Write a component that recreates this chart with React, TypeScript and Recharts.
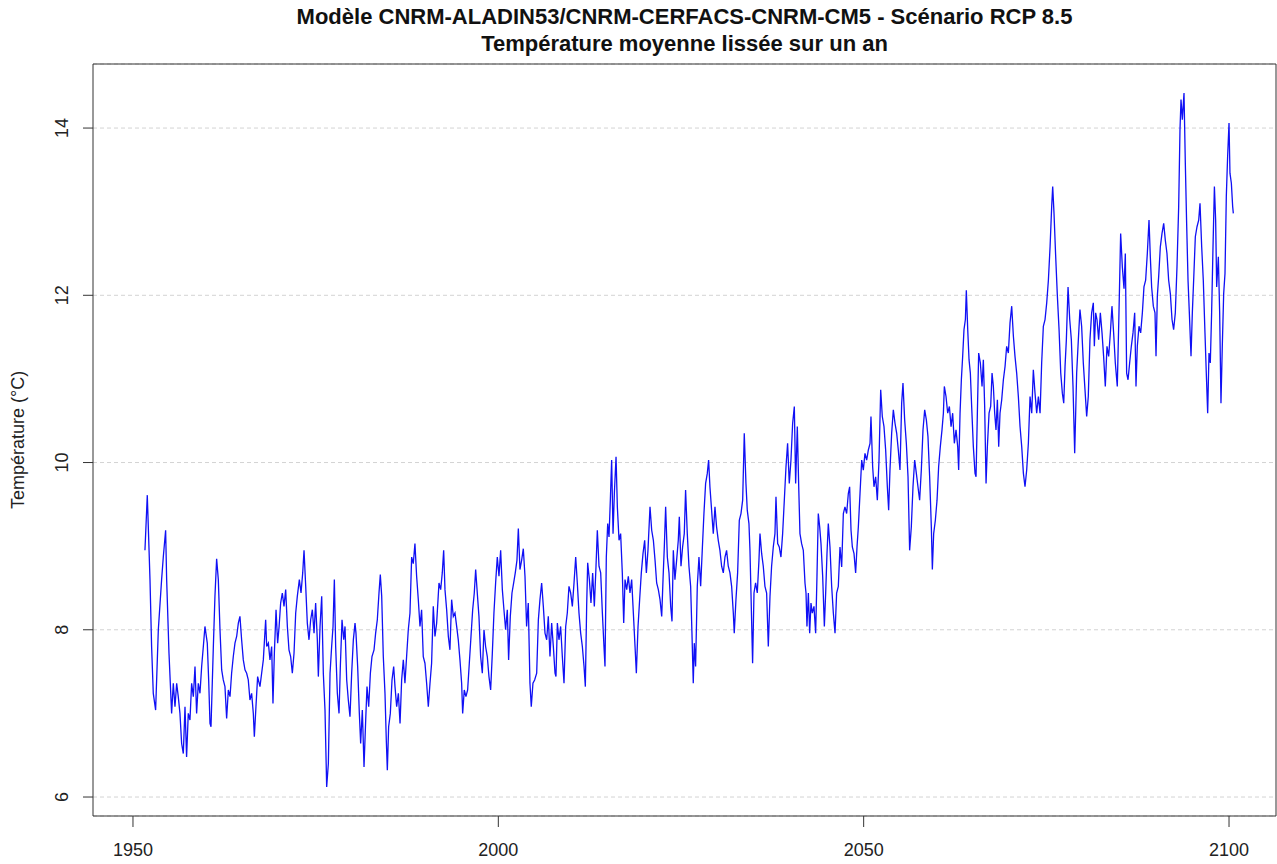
import React from 'react';
import { LineChart, Line, XAxis, YAxis, CartesianGrid, ReferenceArea, Label } from 'recharts';

const TITLE_LINE_1 = 'Modèle CNRM-ALADIN53/CNRM-CERFACS-CNRM-CM5 - Scénario RCP 8.5';
const TITLE_LINE_2 = 'Température moyenne lissée sur un an';
const Y_LABEL = 'Température (°C)';
const X_TICKS = [1950, 2000, 2050, 2100];
const Y_TICKS = [6, 8, 10, 12, 14];

const YEARS = [
  1951.64, 1951.96, 1952.33, 1952.55, 1952.78, 1953.10, 1953.47, 1953.92, 1954.15, 1954.47,
  1954.61, 1954.93, 1955.29, 1955.52, 1955.75, 1955.98, 1956.20, 1956.43, 1956.66, 1956.89,
  1957.12, 1957.34, 1957.57, 1957.80, 1958.03, 1958.26, 1958.49, 1958.71, 1958.94, 1959.17,
  1959.40, 1959.63, 1959.85, 1960.17, 1960.36, 1960.54, 1960.68, 1961.00, 1961.22, 1961.45,
  1961.68, 1961.91, 1962.14, 1962.36, 1962.59, 1962.82, 1963.05, 1963.28, 1963.50, 1963.73,
  1963.96, 1964.19, 1964.42, 1964.64, 1964.87, 1965.10, 1965.33, 1965.56, 1965.78, 1966.01,
  1966.24, 1966.47, 1966.61, 1966.83, 1967.06, 1967.38, 1967.61, 1967.84, 1968.16,
  1968.30, 1968.53, 1968.75, 1968.98, 1969.16, 1969.35, 1969.58, 1969.80, 1970.00, 1970.21,
  1970.44, 1970.67, 1970.90, 1971.13, 1971.35, 1971.58, 1971.81, 1972.04, 1972.27, 1972.49,
  1972.77, 1973.00, 1973.23, 1973.41, 1973.64, 1973.86, 1974.09, 1974.32, 1974.55, 1974.78,
  1975.00, 1975.23, 1975.37, 1975.60, 1975.83, 1976.05, 1976.28, 1976.51, 1976.74, 1976.97,
  1977.19, 1977.38, 1977.56, 1977.74, 1977.97, 1978.20, 1978.38, 1978.61, 1978.84, 1979.02,
  1979.25, 1979.47, 1979.70, 1979.93, 1980.16, 1980.39, 1980.52, 1980.75, 1980.98, 1981.16,
  1981.39, 1981.62, 1981.85, 1982.03, 1982.26, 1982.49, 1982.71, 1982.99, 1983.21, 1983.44,
  1983.67, 1983.85, 1984.04, 1984.26, 1984.49, 1984.67, 1984.81, 1984.99, 1985.22, 1985.45,
  1985.68, 1985.86, 1986.09, 1986.32, 1986.55, 1986.77, 1987.00,
  1987.22, 1987.45, 1987.68, 1987.91, 1988.14, 1988.36, 1988.59, 1988.82, 1989.05, 1989.28,
  1989.50, 1989.73, 1989.96, 1990.19, 1990.42, 1990.65, 1990.87, 1991.10, 1991.33, 1991.56,
  1991.88, 1992.11, 1992.33, 1992.52, 1992.70, 1992.93, 1993.16, 1993.38, 1993.61, 1993.84,
  1994.07, 1994.30, 1994.52, 1994.75, 1994.98, 1995.12, 1995.34, 1995.57, 1995.80, 1996.03,
  1996.26, 1996.49, 1996.71, 1996.90, 1997.12, 1997.35, 1997.58, 1997.81, 1998.04, 1998.26,
  1998.49, 1998.72, 1998.95, 1999.18, 1999.40, 1999.63, 1999.86, 2000.09, 2000.32, 2000.55,
  2000.77, 2001.00, 2001.23, 2001.41, 2001.64, 2001.87, 2002.10, 2002.32, 2002.55, 2002.74,
  2002.96, 2003.19, 2003.42, 2003.65, 2003.87, 2004.10, 2004.33, 2004.51, 2004.74, 2004.97,
  2005.25, 2005.48, 2005.70, 2005.93, 2006.16, 2006.39, 2006.62, 2006.84, 2007.07, 2007.30,
  2007.53, 2007.76, 2007.89, 2008.08, 2008.30, 2008.53, 2008.76, 2008.99, 2009.22, 2009.44,
  2009.67, 2009.90, 2010.13, 2010.36, 2010.59, 2010.81, 2011.04, 2011.27, 2011.50, 2011.73,
  2011.91, 2012.09, 2012.23, 2012.46, 2012.68, 2012.91, 2013.14, 2013.37, 2013.55, 2013.78,
  2014.01, 2014.24, 2014.46, 2014.60, 2014.78, 2014.97, 2015.15, 2015.33, 2015.51, 2015.70,
  2015.88, 2016.11, 2016.29, 2016.52, 2016.74, 2016.97, 2017.16, 2017.34, 2017.57, 2017.79,
  2018.02, 2018.25, 2018.48, 2018.71, 2018.89, 2019.12, 2019.34, 2019.57, 2019.80, 2020.03,
  2020.26, 2020.48, 2020.76, 2020.99, 2021.22, 2021.45, 2021.67, 2021.90, 2022.13, 2022.36,
  2022.54, 2022.72, 2022.90, 2023.13, 2023.36, 2023.59, 2023.77, 2023.95,
  2024.17, 2024.40, 2024.63, 2024.77, 2025.00, 2025.22, 2025.45, 2025.63, 2025.86, 2026.09,
  2026.32, 2026.50, 2026.68, 2026.82, 2027.00, 2027.23, 2027.46, 2027.69, 2027.91, 2028.14,
  2028.37, 2028.60, 2028.78, 2028.96, 2029.19, 2029.42, 2029.65, 2029.87, 2030.10, 2030.33,
  2030.56, 2030.79, 2031.02, 2031.24, 2031.47, 2031.70, 2031.93, 2032.16, 2032.29, 2032.52,
  2032.75, 2032.98, 2033.21, 2033.44, 2033.66, 2033.89, 2034.07, 2034.30, 2034.44, 2034.62,
  2034.80, 2034.99, 2035.21, 2035.44, 2035.67, 2035.81, 2036.04, 2036.26, 2036.49, 2036.72,
  2036.95, 2037.18, 2037.40, 2037.63, 2037.86, 2038.00, 2038.23, 2038.45, 2038.68, 2038.91,
  2039.14, 2039.37, 2039.59, 2039.82, 2040.05, 2040.28, 2040.51, 2040.69, 2040.92, 2041.10,
  2041.28, 2041.51, 2041.74, 2041.97,
  2042.11, 2042.24, 2042.43, 2042.61, 2042.79, 2042.97, 2043.20, 2043.43, 2043.61, 2043.79,
  2043.98, 2044.16, 2044.39, 2044.62, 2044.80, 2044.98, 2045.16, 2045.39, 2045.62, 2045.85,
  2046.08, 2046.30, 2046.53, 2046.76, 2046.99, 2047.22, 2047.44, 2047.67, 2047.90, 2048.08,
  2048.27, 2048.45, 2048.68, 2048.90, 2049.09, 2049.27, 2049.50, 2049.73, 2049.95, 2050.18,
  2050.41, 2050.64, 2050.87, 2051.00, 2051.23, 2051.41, 2051.64, 2051.87, 2052.10, 2052.33,
  2052.55, 2052.78, 2053.01, 2053.24, 2053.42, 2053.60, 2053.83, 2054.06, 2054.29, 2054.52,
  2054.74, 2054.97, 2055.20, 2055.38, 2055.61, 2055.84, 2056.07, 2056.29, 2056.52, 2056.75,
  2056.98, 2057.21, 2057.43, 2057.66, 2057.89, 2058.12, 2058.35, 2058.58, 2058.80, 2059.03,
  2059.26, 2059.40, 2059.58, 2059.81, 2060.04, 2060.26, 2060.49, 2060.72,
  2060.91, 2061.04, 2061.27, 2061.50, 2061.73, 2061.96, 2062.18, 2062.41, 2062.64, 2062.87,
  2063.00, 2063.19, 2063.37, 2063.55, 2063.73, 2063.92, 2064.05, 2064.24, 2064.42, 2064.60,
  2064.78, 2065.01, 2065.24, 2065.38, 2065.56, 2065.74, 2065.97, 2066.20, 2066.38, 2066.56,
  2066.75, 2066.93, 2067.16, 2067.38, 2067.57, 2067.75, 2067.93, 2068.11, 2068.30, 2068.48,
  2068.66, 2068.89, 2069.12, 2069.35, 2069.57, 2069.80, 2070.03, 2070.26, 2070.49, 2070.71,
  2070.94, 2071.17, 2071.40, 2071.63, 2071.86, 2072.08, 2072.31, 2072.54, 2072.77, 2073.00,
  2073.22, 2073.45, 2073.68, 2073.91, 2074.14, 2074.36, 2074.59, 2074.82, 2075.05, 2075.28,
  2075.51, 2075.73, 2075.87, 2076.05, 2076.28, 2076.51, 2076.74, 2076.97, 2077.19, 2077.38,
  2077.56, 2077.74, 2077.97, 2078.20, 2078.42, 2078.65, 2078.88,
  2079.15, 2079.38, 2079.60, 2079.83, 2080.06, 2080.29, 2080.52, 2080.74, 2080.97, 2081.20,
  2081.43, 2081.57, 2081.75, 2081.93, 2082.16, 2082.39, 2082.62, 2082.84, 2083.07, 2083.30,
  2083.53, 2083.76, 2083.98, 2084.21, 2084.44, 2084.71, 2084.94, 2085.17, 2085.40, 2085.63,
  2085.81, 2085.99, 2086.18, 2086.40, 2086.63, 2086.86, 2087.09, 2087.27, 2087.45, 2087.68,
  2087.91, 2088.14, 2088.36, 2088.59, 2088.82, 2089.05, 2089.23, 2089.41, 2089.64, 2089.87,
  2090.01, 2090.19, 2090.37, 2090.60, 2090.83, 2091.06, 2091.28, 2091.51, 2091.74, 2091.97,
  2092.20, 2092.42, 2092.65, 2092.88, 2093.11, 2093.29, 2093.43, 2093.61, 2093.84, 2094.02,
  2094.20, 2094.39, 2094.57, 2094.80, 2094.98, 2095.16, 2095.39, 2095.62, 2095.85, 2096.03,
  2096.26, 2096.48, 2096.71, 2096.89, 2097.08, 2097.26, 2097.44, 2097.62, 2097.81, 2098.00,
  2098.17, 2098.31, 2098.54, 2098.72, 2098.90, 2099.08, 2099.27, 2099.45, 2099.63, 2099.81,
  2100.00, 2100.13, 2100.32, 2100.50, 2100.59,
];

const TEMPS = [
  8.95, 9.61, 8.60, 7.80, 7.24, 7.04, 8.00, 8.60, 8.87, 9.19,
  8.60, 7.72, 7.00, 7.36, 7.08, 7.36, 7.20, 7.00, 6.64, 6.52,
  7.08, 6.48, 7.00, 6.92, 7.36, 7.20, 7.56, 7.00, 7.36, 7.24,
  7.56, 7.80, 8.04, 7.84, 7.40, 6.88, 6.84, 7.80, 8.40, 8.85,
  8.60, 8.00, 7.52, 7.40, 7.32, 6.94, 7.28, 7.20, 7.48, 7.68,
  7.84, 7.92, 8.08, 8.16, 7.88, 7.64, 7.52, 7.48, 7.40, 7.16,
  7.24, 7.00, 6.72, 7.08, 7.44, 7.32, 7.48, 7.64, 8.12,
  7.80, 7.84, 7.64, 7.80, 7.12, 7.72, 8.24, 7.84, 8.04, 8.32,
  8.44, 8.28, 8.48, 8.04, 7.76, 7.68, 7.48, 7.72, 8.20, 8.40,
  8.60, 8.44, 8.68, 8.95, 8.52, 8.08, 7.88, 8.12, 8.24, 7.96,
  8.32, 7.88, 7.44, 8.04, 8.40, 7.48, 7.04, 6.12, 6.40, 7.48,
  7.80, 8.04, 8.60, 7.80, 7.24, 7.00, 7.56, 8.12, 7.88, 8.04,
  7.40, 7.16, 6.96, 7.48, 7.88, 8.08, 7.96, 7.56, 7.00, 6.64,
  7.04, 6.36, 6.92, 7.32, 7.08, 7.48, 7.68, 7.76, 7.96, 8.12,
  8.44, 8.66, 8.40, 7.68, 7.24, 6.68, 6.32, 6.84, 7.00, 7.40,
  7.56, 7.32, 7.08, 7.24, 6.88, 7.40, 7.64,
  7.36, 7.68, 8.00, 8.20, 8.87, 8.79, 9.03, 8.64, 8.36, 8.04,
  8.24, 7.68, 7.60, 7.36, 7.08, 7.36, 7.60, 8.28, 7.92, 8.08,
  8.56, 8.48, 8.68, 8.95, 8.48, 8.24, 7.92, 7.76, 8.36, 8.16,
  8.20, 8.04, 7.88, 7.64, 7.36, 7.00, 7.28, 7.20, 7.28, 7.60,
  7.92, 8.24, 8.44, 8.72, 8.44, 8.16, 7.68, 7.48, 8.00, 7.80,
  7.68, 7.44, 7.28, 7.72, 8.20, 8.56, 8.87, 8.64, 8.95, 8.48,
  8.24, 8.00, 8.24, 7.64, 8.16, 8.44, 8.56, 8.68, 8.83, 9.21,
  8.72, 8.83, 8.97, 8.64, 8.04, 8.32, 7.36, 7.08, 7.36, 7.40,
  7.48, 8.12, 8.36, 8.56, 8.28, 7.96, 7.88, 8.16, 7.68, 8.08,
  7.80, 7.48, 7.44, 8.08, 7.88, 8.04, 7.68, 7.36, 8.04, 8.20,
  8.52, 8.44, 8.28, 8.56, 8.87, 8.56, 8.20, 7.96, 7.80, 7.56,
  7.32, 8.28, 8.80, 8.60, 8.32, 8.68, 8.28, 8.76, 9.19, 8.76,
  8.68, 8.20, 7.80, 7.56, 8.87, 9.27, 9.11, 9.55, 10.03, 9.15,
  9.63, 10.07, 9.47, 9.07, 9.15, 8.68, 8.08, 8.60, 8.48, 8.64,
  8.44, 8.60, 8.20, 7.80, 7.48, 8.04, 8.36, 8.68, 8.91, 9.07,
  8.68, 8.95, 9.47, 9.19, 9.07, 8.83, 8.56, 8.48, 8.36, 8.16,
  8.60, 9.00, 9.47, 8.87, 8.68, 8.28, 8.10, 8.95,
  8.60, 8.83, 9.07, 9.35, 8.76, 8.99, 9.15, 9.67, 9.15, 8.76,
  8.52, 7.96, 7.36, 7.84, 7.56, 8.52, 8.87, 8.52, 8.95, 9.39,
  9.75, 9.87, 10.03, 9.71, 9.43, 9.15, 9.47, 9.23, 9.07, 8.95,
  8.76, 8.68, 8.87, 8.95, 8.76, 8.68, 8.52, 8.20, 7.96, 8.36,
  8.68, 9.31, 9.39, 9.55, 10.35, 9.75, 9.43, 9.27, 8.95, 8.28,
  7.60, 8.44, 8.56, 8.44, 8.83, 9.15, 8.91, 8.76, 8.52, 8.44,
  7.80, 8.40, 8.76, 8.99, 9.15, 9.59, 9.03, 8.99, 8.87, 9.15,
  9.55, 9.95, 10.23, 9.75, 10.03, 10.47, 10.67, 9.75, 10.43, 9.75,
  9.15, 9.03, 8.95, 8.56,
  8.44, 8.04, 8.44, 7.96, 8.32, 8.20, 8.28, 7.96, 8.64, 9.39,
  9.23, 9.03, 8.64, 8.04, 8.44, 8.91, 9.27, 8.99, 8.52, 8.20,
  7.96, 8.44, 8.52, 8.99, 8.75, 9.39, 9.47, 9.39, 9.63, 9.71,
  9.19, 8.99, 8.91, 8.68, 8.99, 9.23, 9.63, 10.03, 9.91, 10.11,
  10.03, 10.15, 10.23, 10.55, 9.95, 9.71, 9.83, 9.55, 10.03, 10.87,
  10.55, 10.43, 10.15, 9.71, 9.43, 9.91, 10.35, 10.63, 10.47, 10.35,
  10.15, 9.91, 10.71, 10.95, 10.51, 10.23, 9.83, 8.95, 9.23, 9.71,
  10.03, 9.87, 9.71, 9.55, 9.91, 10.39, 10.63, 10.51, 10.31, 9.83,
  9.23, 8.72, 9.15, 9.31, 9.55, 9.95, 10.19, 10.39,
  10.59, 10.91, 10.79, 10.59, 10.67, 10.43, 10.59, 10.23, 10.39, 10.19,
  9.91, 10.59, 10.99, 11.27, 11.59, 11.71, 12.06, 11.59, 11.23, 11.07,
  10.67, 10.19, 9.87, 9.83, 10.59, 11.31, 11.19, 10.91, 11.23, 10.67,
  9.75, 10.19, 10.59, 10.67, 11.07, 10.91, 10.59, 10.39, 10.75, 10.19,
  10.59, 10.75, 10.99, 11.15, 11.39, 11.31, 11.67, 11.87, 11.51, 11.27,
  11.07, 10.79, 10.43, 10.19, 9.87, 9.71, 9.91, 10.23, 10.79, 10.59,
  11.11, 10.83, 10.59, 10.79, 10.59, 11.19, 11.63, 11.71, 11.91, 12.18,
  12.58, 13.06, 13.30, 12.98, 12.46, 11.99, 11.59, 11.07, 10.83, 10.71,
  11.15, 11.47, 12.10, 11.71, 11.47, 10.91, 10.11,
  11.07, 11.47, 11.83, 11.63, 11.19, 10.87, 10.55, 10.79, 11.47, 11.79,
  11.91, 11.39, 11.79, 11.71, 11.47, 11.79, 11.55, 11.27, 10.91, 11.39,
  11.27, 11.55, 11.87, 11.55, 11.19, 10.91, 11.79, 12.74, 12.34, 12.08,
  12.50, 11.07, 10.99, 11.19, 11.39, 11.55, 11.79, 10.91, 11.39, 11.63,
  11.55, 11.79, 12.10, 12.18, 12.50, 12.90, 12.46, 12.10, 11.87, 11.79,
  11.27, 11.99, 12.22, 12.58, 12.74, 12.86, 12.66, 12.50, 12.18, 12.02,
  11.71, 11.59, 11.79, 12.34, 13.06, 13.98, 14.34, 14.10, 14.42, 13.58,
  12.86, 12.18, 11.79, 11.27, 11.79, 12.18, 12.70, 12.82, 12.90, 13.10,
  12.58, 12.18, 11.55, 11.07, 10.59, 11.31, 11.19, 11.79, 12.58, 13.30,
  12.90, 12.10, 12.46, 11.79, 10.71, 11.39, 12.02, 12.26, 13.18, 13.66,
  14.06, 13.46, 13.34, 13.06, 12.98,
];

const X_DOMAIN: [number, number] = [1944.53, 2106.43];
const Y_DOMAIN: [number, number] = [5.773, 14.766];

const FONT = '"Liberation Sans", Arial, Helvetica, sans-serif';

const data = YEARS.map((year, i) => ({ year, temp: TEMPS[i] }));

function YTick(props: any) {
  const { x, y, payload } = props;
  const cx = x - 21;
  return (
    <text
      x={cx}
      y={y}
      transform={`rotate(-90 ${cx} ${y})`}
      textAnchor="middle"
      dominantBaseline="central"
      fontSize={18}
      fill="#222"
      fontFamily={FONT}
    >
      {payload.value}
    </text>
  );
}

export default function App() {
  return (
    <div style={{ position: 'absolute', left: 0, top: 0, width: 1277, height: 864, background: '#fff', fontFamily: FONT }}>
      <div style={{ position: 'absolute', left: 93, width: 1183, top: 5, lineHeight: '24px', textAlign: 'center', fontWeight: 'bold', fontSize: 22, color: '#111' }}>
        {TITLE_LINE_1}
      </div>
      <div style={{ position: 'absolute', left: 93, width: 1183, top: 32, lineHeight: '24px', textAlign: 'center', fontWeight: 'bold', fontSize: 22, color: '#111' }}>
        {TITLE_LINE_2}
      </div>
      <LineChart width={1277} height={864} data={data} margin={{ top: 64, right: 1, bottom: 0, left: 0 }}>
        <CartesianGrid horizontal vertical={false} stroke="#d3d3d3" strokeDasharray="4 3" />
        <XAxis
          dataKey="year"
          type="number"
          domain={X_DOMAIN}
          ticks={X_TICKS}
          interval={0}
          allowDataOverflow
          height={48}
          axisLine={false}
          tickSize={11}
          tickMargin={16}
          tickLine={{ stroke: '#333' }}
          tick={{ fontSize: 18, fill: '#222', fontFamily: FONT }}
        />
        <YAxis
          type="number"
          domain={Y_DOMAIN}
          ticks={Y_TICKS}
          interval={0}
          allowDataOverflow
          width={93}
          axisLine={false}
          tickSize={10}
          tickMargin={0}
          tickLine={{ stroke: '#333' }}
          tick={<YTick />}
        >
          <Label
            content={() => (
              <text
                x={18}
                y={440}
                transform="rotate(-90 18 440)"
                textAnchor="middle"
                dominantBaseline="central"
                fontSize={18}
                fill="#222"
                fontFamily={FONT}
              >
                {Y_LABEL}
              </text>
            )}
          />
        </YAxis>
        <Line
          type="linear"
          dataKey="temp"
          stroke="#1010f5"
          strokeWidth={1.3}
          dot={false}
          activeDot={false}
          isAnimationActive={false}
        />
        <ReferenceArea
          x1={X_DOMAIN[0]}
          x2={X_DOMAIN[1]}
          y1={Y_DOMAIN[0]}
          y2={Y_DOMAIN[1]}
          fill="none"
          stroke="#333"
          strokeWidth={1}
          ifOverflow="visible"
        />
      </LineChart>
    </div>
  );
}
